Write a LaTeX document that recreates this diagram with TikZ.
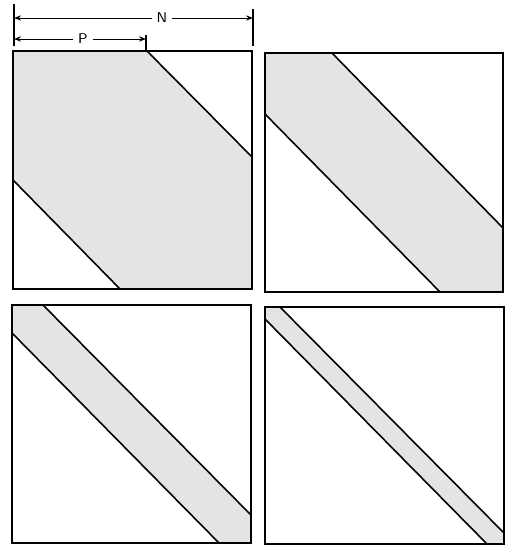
\documentclass[tikz,border=0pt]{standalone}
\usepackage{tikz}
\usetikzlibrary{arrows.meta,positioning,calc}
\usepackage{xcolor}
\definecolor{bandgray}{RGB}{228,228,228}

\begin{document}
\begin{tikzpicture}[x=0.02cm, y=-0.02cm,
    frame/.style={draw, line width=1.1pt},
    band/.style={fill=bandgray},
    edge/.style={line width=0.9pt},
    tick/.style={line width=0.6pt},
    dimarrow/.style={-{Stealth[length=4pt, width=3pt]}, line width=0.5pt},
    dimlabel/.style={font=\sffamily\fontsize{8}{9}\selectfont, fill=white, inner sep=2.5pt}
]
\useasboundingbox (0,0) rectangle (511,545);

% Dimensions N and P
\coordinate (nl) at (14,18);
\coordinate (nr) at (253,18);
\coordinate (pl) at (14,39);
\coordinate (pr) at (146,39);
\draw[tick] (14,4) -- (14,46);
\draw[tick] (253,9) -- (253,46);
\draw[tick] (146,35) -- (146,51);
\node[dimlabel] (Nlab) at (162,18) {N};
\node[dimlabel] (Plab) at (83,39) {P};
\draw[dimarrow] (Nlab) -- (nl);
\draw[dimarrow] (Nlab) -- (nr);
\draw[dimarrow] (Plab) -- (pl);
\draw[dimarrow] (Plab) -- (pr);

% Panel 1: wide band
\fill[band] (13,51) -- (147,51) -- (252,157) -- (252,289) -- (120,289) -- (13,180) -- cycle;
\draw[edge] (147,51) -- (252,157);
\draw[edge] (13,180) -- (120,289);
\draw[frame] (13,51) rectangle (252,289);

% Panel 2
\fill[band] (265,53) -- (332,53) -- (503,228) -- (503,292) -- (440,292) -- (265,114) -- cycle;
\draw[edge] (332,53) -- (503,228);
\draw[edge] (265,114) -- (440,292);
\draw[frame] (265,53) rectangle (503,292);

% Panel 3
\fill[band] (12,305) -- (43,305) -- (251,515) -- (251,543) -- (219,543) -- (12,333) -- cycle;
\draw[edge] (43,305) -- (251,515);
\draw[edge] (12,333) -- (219,543);
\draw[frame] (12,305) rectangle (251,543);

% Panel 4: narrow band
\fill[band] (265,307) -- (280,307) -- (504,533) -- (504,544) -- (487,544) -- (265,319) -- cycle;
\draw[edge] (280,307) -- (504,533);
\draw[edge] (265,319) -- (487,544);
\draw[frame] (265,307) rectangle (504,544);

\end{tikzpicture}
\end{document}
